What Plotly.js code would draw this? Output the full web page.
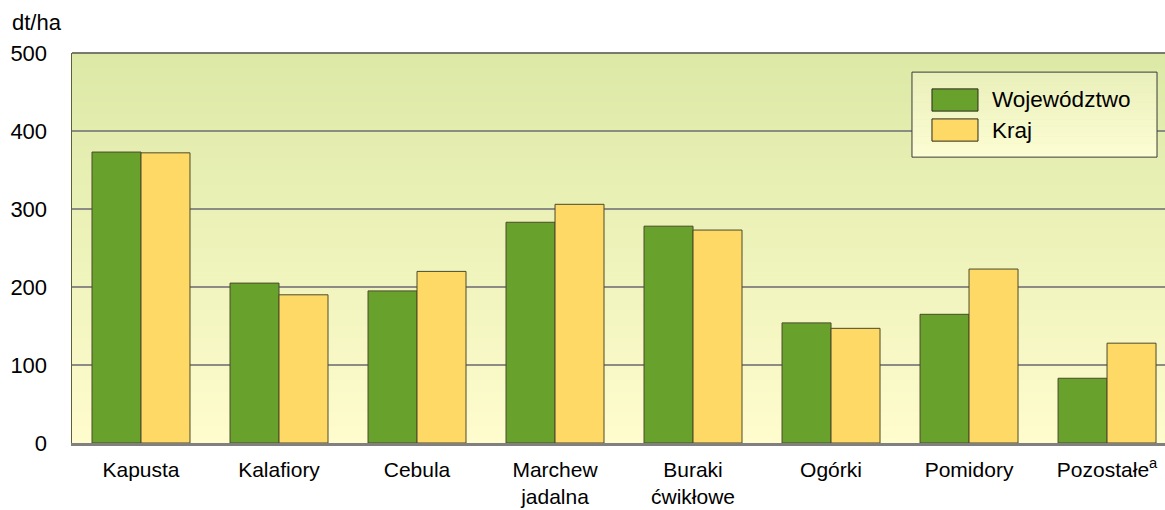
<!DOCTYPE html>
<html>
<head>
<meta charset="utf-8">
<script src="https://cdn.plot.ly/plotly-3.0.1.min.js"></script>
<style>
html,body{margin:0;padding:0;background:#ffffff;}
#chart{width:1165px;height:510px;}
</style>
</head>
<body>
<div id="chart"></div>
<script>
// ---- data ----
const categories = ["Kapusta", "Kalafiory", "Cebula", "Marchew<br>jadalna", "Buraki<br>ćwikłowe", "Ogórki", "Pomidory", "Pozostałe<sup>a</sup>"];
const seriesNames = ["Województwo", "Kraj"];
const wojewodztwo = [373, 205, 195, 283, 278, 154, 165, 83];
const kraj = [372, 190, 220, 306, 273, 147, 223, 128];
const yTickVals = [0, 100, 200, 300, 400, 500];
const yUnit = "dt/ha";

const colors = ["#69a12d", "#ffd966"];
const FONT = "Liberation Sans, Arial, sans-serif";

function lerp(a, b, t) { return Math.round(a + (b - a) * t); }
function mix(c1, c2, t) {
  return "rgb(" + lerp(c1[0], c2[0], t) + "," + lerp(c1[1], c2[1], t) + "," + lerp(c1[2], c2[2], t) + ")";
}

const shapes = [];
// plot background gradient (style only)
const topC = [220, 233, 166], botC = [255, 252, 206];
const N = 100;
for (let i = 0; i < N; i++) {
  shapes.push({type: "rect", xref: "paper", yref: "paper", layer: "below",
    x0: 0, x1: 1, y0: i / N, y1: (i + 1) / N + 0.002,
    fillcolor: mix(botC, topC, (i + 0.5) / N), line: {width: 0}});
}
// top border line
shapes.push({type: "line", xref: "paper", yref: "paper", x0: 0, x1: 1, y0: 1, y1: 1,
  line: {color: "#555555", width: 1.5}, layer: "above"});

// custom legend box
const lx0 = 0.7685, lx1 = 0.9927, ly0 = 0.733, ly1 = 0.951;
const LN = 25;
const lTop = [233, 240, 186], lBot = [253, 253, 212];
for (let i = 0; i < LN; i++) {
  shapes.push({type: "rect", xref: "paper", yref: "paper", layer: "above",
    x0: lx0, x1: lx1, y0: ly0 + (ly1 - ly0) * i / LN, y1: Math.min(ly1, ly0 + (ly1 - ly0) * (i + 1.1) / LN),
    fillcolor: mix(lBot, lTop, (i + 0.5) / LN), line: {width: 0}});
}
shapes.push({type: "rect", xref: "paper", yref: "paper", layer: "above",
  x0: lx0, x1: lx1, y0: ly0, y1: ly1, fillcolor: "rgba(0,0,0,0)", line: {color: "#3a3a3a", width: 1}});
const annotations = [];
const swatchY = [[0.851, 0.908], [0.774, 0.831]];
seriesNames.forEach((name, i) => {
  shapes.push({type: "rect", xref: "paper", yref: "paper", layer: "above",
    x0: 0.7868, x1: 0.8289, y0: swatchY[i][0], y1: swatchY[i][1],
    fillcolor: colors[i], line: {color: "#2a2a1a", width: 1}});
  annotations.push({xref: "paper", yref: "paper", x: 0.8399, y: (swatchY[i][0] + swatchY[i][1]) / 2,
    xanchor: "left", yanchor: "middle", text: name, showarrow: false,
    font: {family: FONT, size: 22.5, color: "#000000"}});
});
// unit label
annotations.push({xref: "paper", yref: "paper", x: -0.0566, y: 1.077, xanchor: "left", yanchor: "middle",
  text: yUnit, showarrow: false, font: {family: FONT, size: 22, color: "#000000"}});

const traces = [wojewodztwo, kraj].map((vals, i) => ({
  type: "bar", name: seriesNames[i], x: categories, y: vals,
  marker: {color: colors[i], line: {color: "#4a4a2a", width: 1}},
  showlegend: false, hoverinfo: "x+y"
}));

const layout = {
  width: 1165, height: 510,
  margin: {l: 72, r: 0, t: 53, b: 67, pad: 0},
  paper_bgcolor: "#ffffff",
  plot_bgcolor: "rgba(0,0,0,0)",
  barmode: "group", bargap: 0.29, bargroupgap: 0,
  font: {family: FONT, size: 22, color: "#000000"},
  xaxis: {
    type: "category", range: [-0.5, 7.42],
    showgrid: false, zeroline: false,
    showline: true, linecolor: "#808080", linewidth: 2.5,
    ticks: "outside", ticklen: 6, tickcolor: "rgba(0,0,0,0)",
    tickfont: {family: FONT, size: 21, color: "#000000"},
    fixedrange: true
  },
  yaxis: {
    range: [0, 500], tickvals: yTickVals, ticktext: yTickVals.map(String),
    showgrid: true, gridcolor: "#8c8c84", gridwidth: 1.5,
    zeroline: false, showline: true, linecolor: "#5e6036", linewidth: 1.5,
    ticks: "outside", ticklen: 19, tickcolor: "rgba(0,0,0,0)",
    tickfont: {family: FONT, size: 22, color: "#000000"},
    fixedrange: true
  },
  shapes: shapes,
  annotations: annotations,
  showlegend: false
};

Plotly.newPlot("chart", traces, layout, {displayModeBar: false, staticPlot: true});
</script>
</body>
</html>
